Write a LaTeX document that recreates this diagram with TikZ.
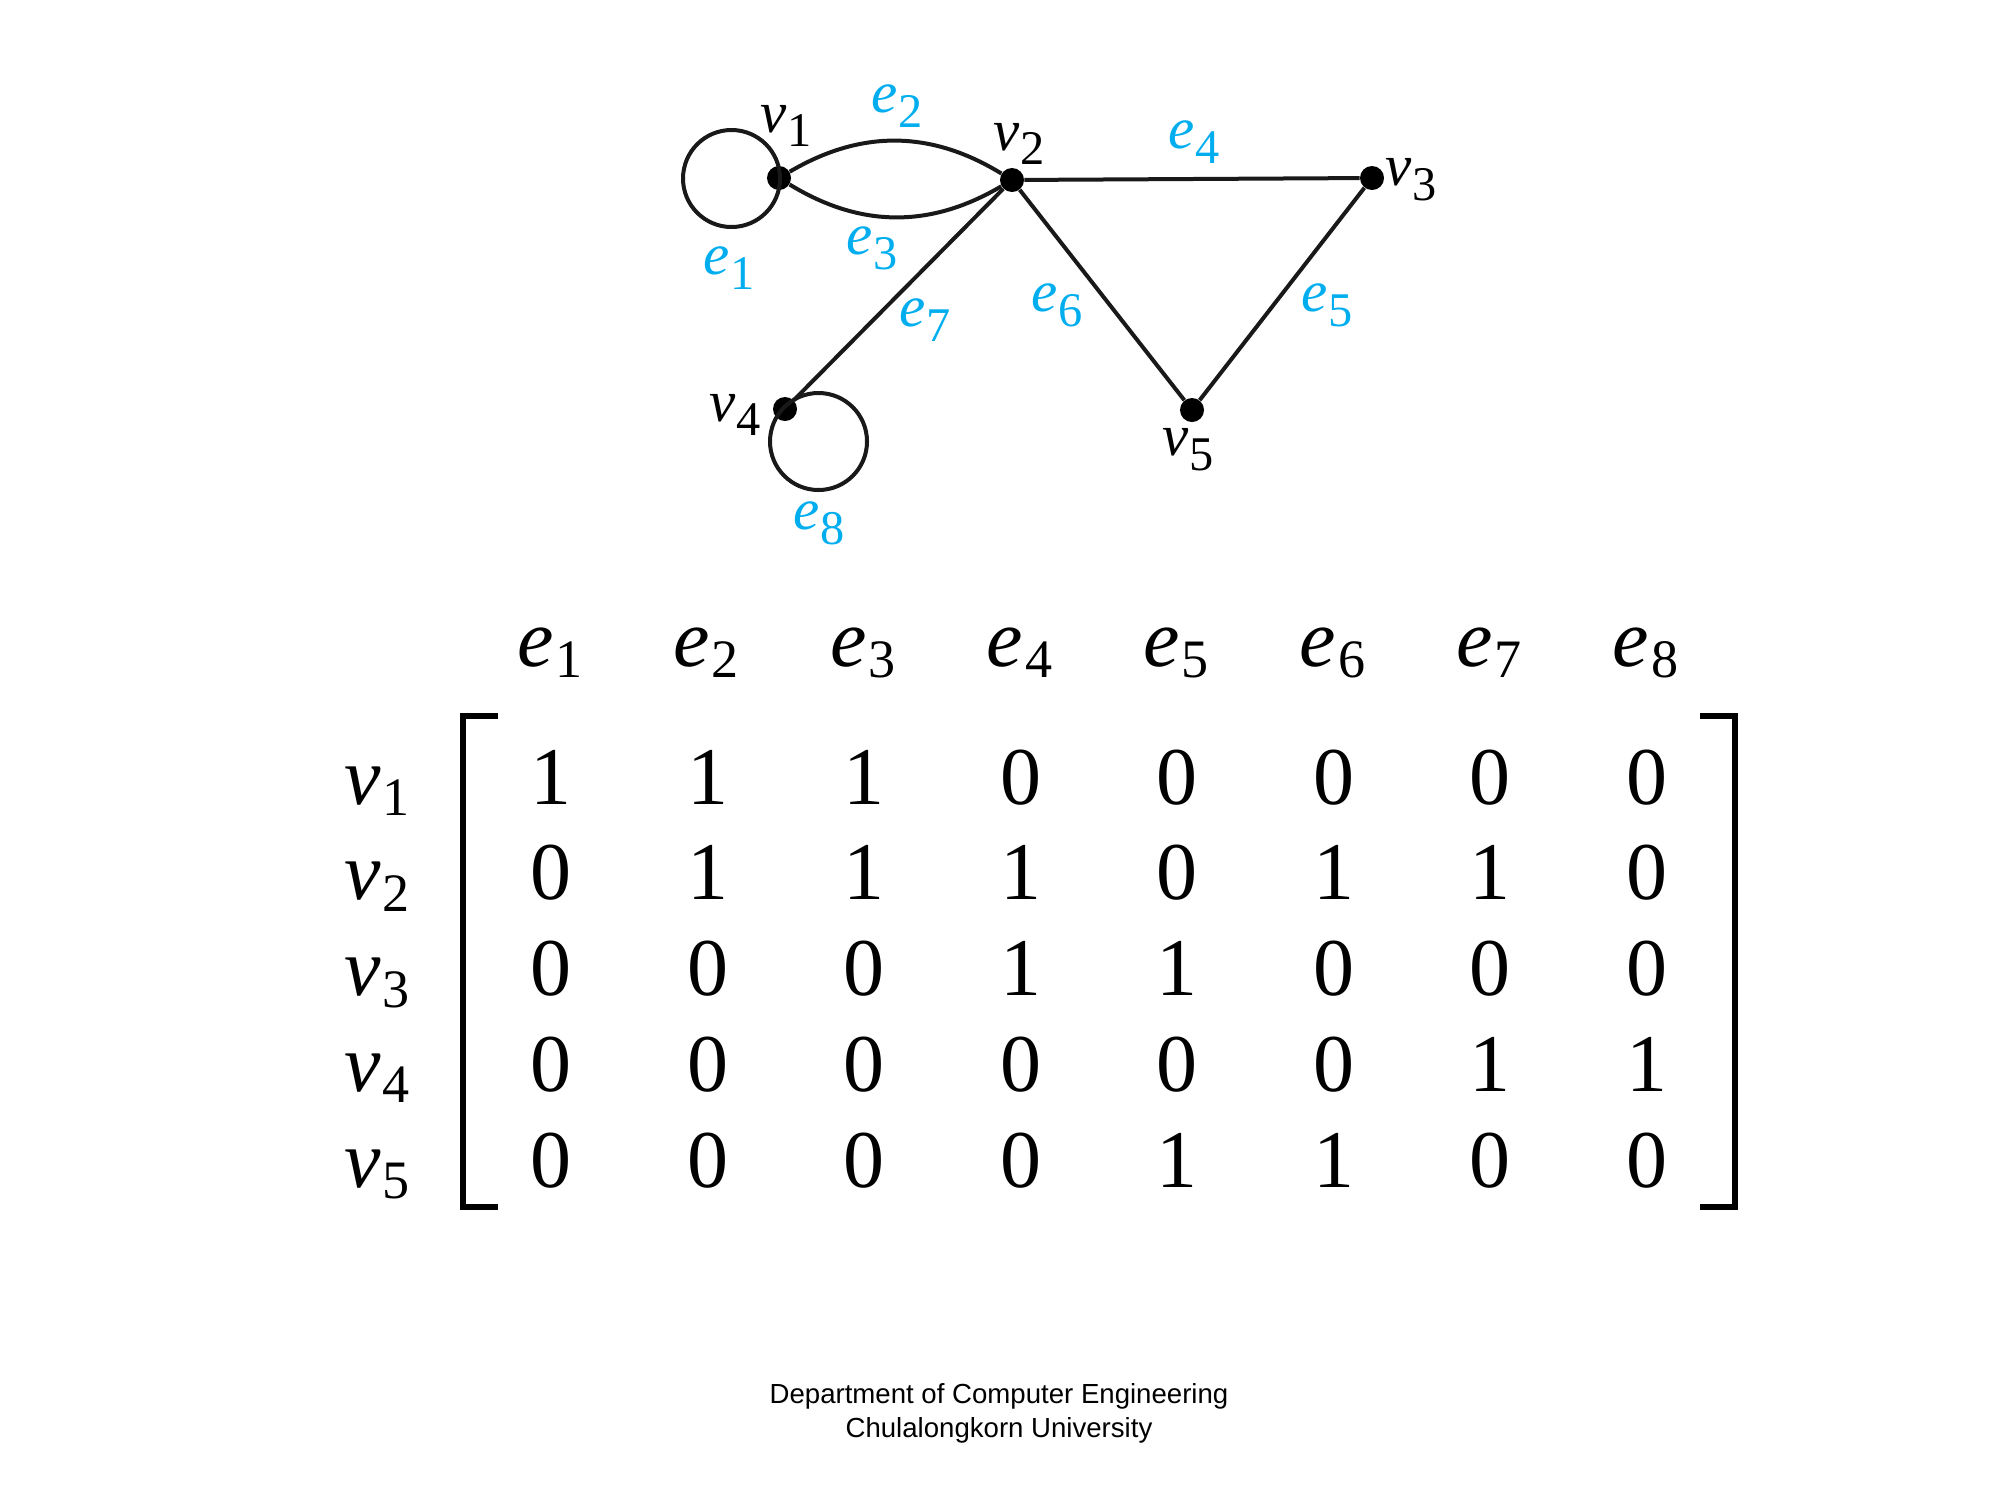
\documentclass[tikz,border=0pt]{standalone}
\usepackage{fontspec}
\setmainfont{Liberation Serif}
\newfontfamily\footfont{Liberation Sans}
\usepackage{graphicx}
\definecolor{ecyan}{RGB}{0,174,239}
\newcommand\gl[2]{\textit{#1}\kern0.02em\raisebox{-0.25em}{\scalebox{0.82}{#2}}}
\newcommand\ml[2]{\textit{#1}\kern0.02em\raisebox{-0.14em}{\scalebox{0.66}{#2}}}
\begin{document}
\begin{tikzpicture}[x=0.5pt,y=-0.5pt,
  vdot/.style={circle,fill=black,inner sep=0pt,minimum size=12pt},
  edge/.style={line width=2pt,draw=black!90},
  vlab/.style={inner sep=0pt,font=\fontsize{29.5}{34}\selectfont,text=black},
  elab/.style={inner sep=0pt,font=\fontsize{29.5}{34}\selectfont,text=ecyan},
  ent/.style={inner sep=0pt,anchor=base,font=\fontsize{41}{48}\selectfont},
  brk/.style={line width=3pt,line join=miter},
  foot/.style={inner sep=0pt,anchor=base,font=\footfont\fontsize{13.8}{16}\selectfont}]
\useasboundingbox (0,0) rectangle (2000,1500);
% vertices
\node[vdot] (v1) at (779,178) {};
\node[vdot] (v2) at (1012,180) {};
\node[vdot] (v3) at (1372,178) {};
\node[vdot] (v4) at (785,409) {};
\node[vdot] (v5) at (1192,410) {};
\coordinate (c1) at (731.5,178.5);
\coordinate (c8) at (818.5,441.5);
% edges
\draw[edge] (c1) circle[radius=24.25pt];
\draw[edge] (c8) circle[radius=24.25pt];
\draw[edge] (v1) to[bend left=31] (v2);
\draw[edge] (v1) to[bend right=31] (v2);
\draw[edge] (v2) -- (v3);
\draw[edge] (v3) -- (v5);
\draw[edge] (v2) -- (v5);
\draw[edge] (v2) -- (v4);
% labels
\node[vlab] (lv1) at (786,126) {\gl{v}{1}};
\node[vlab] (lv2) at (1019,144) {\gl{v}{2}};
\node[vlab] (lv3) at (1411,180) {\gl{v}{3}};
\node[vlab] (lv4) at (735,415) {\gl{v}{4}};
\node[vlab] (lv5) at (1188,450) {\gl{v}{5}};
\node[elab] (le1) at (729,268) {\gl{e}{1}};
\node[elab] (le2) at (897,106) {\gl{e}{2}};
\node[elab] (le3) at (872,248) {\gl{e}{3}};
\node[elab] (le4) at (1194,142) {\gl{e}{4}};
\node[elab] (le5) at (1327,305) {\gl{e}{5}};
\node[elab] (le6) at (1057,305) {\gl{e}{6}};
\node[elab] (le7) at (925,320) {\gl{e}{7}};
\node[elab] (le8) at (819,523) {\gl{e}{8}};
% matrix
\foreach \j in {1,...,8}{
  \node[ent] (c\j) at ({550+156.5*(\j-1)},666) {\ml{e}{\j}};
}
\foreach \row [count=\i] in {{1,1,1,0,0,0,0,0},{0,1,1,1,0,1,1,0},{0,0,0,1,1,0,0,0},{0,0,0,0,0,0,1,1},{0,0,0,0,1,1,0,0}}{
  \node[ent] (r\i) at (377,{804+95.75*(\i-1)}) {\ml{v}{\i}};
  \foreach \val [count=\j] in \row {
    \node[ent] (m\i\j) at ({551+156.5*(\j-1)},{804+95.75*(\i-1)}) {\val};
  }
}
\draw[brk] (498,716) -- (463,716) -- (463,1207) -- (498,1207);
\draw[brk] (1700,716) -- (1735,716) -- (1735,1207) -- (1700,1207);
% footer
\node[foot] (f1) at (999,1403) {Department of Computer Engineering};
\node[foot] (f2) at (999,1437) {Chulalongkorn University};
\end{tikzpicture}
\end{document}
